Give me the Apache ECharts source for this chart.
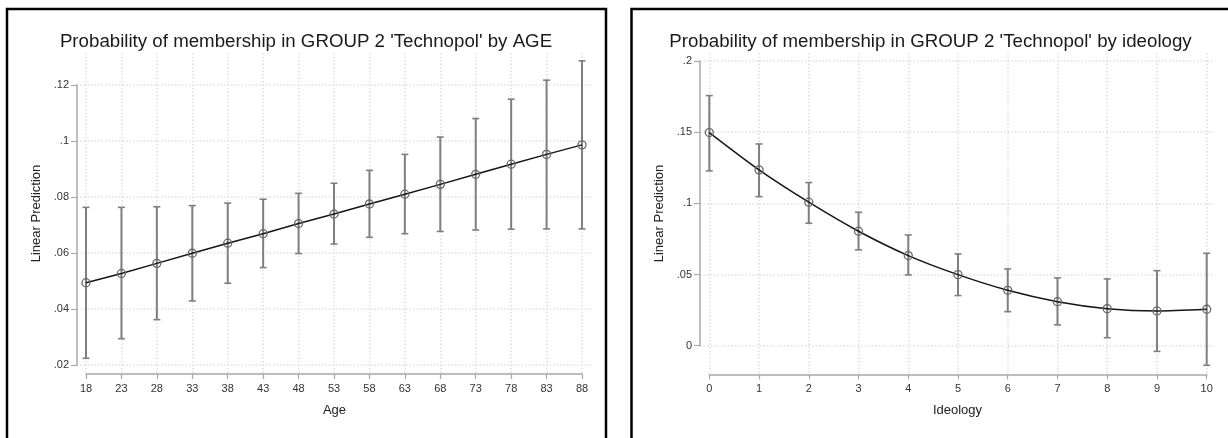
<!DOCTYPE html>
<html>
<head>
<meta charset="utf-8">
<script src="https://cdn.jsdelivr.net/npm/echarts@6/dist/echarts.min.js"></script>
<style>
html,body{margin:0;padding:0;background:#fff;}
#chart{width:1228px;height:438px;}
</style>
</head>
<body>
<div id="chart"></div>
<script>
// ---- Data: left panel (by AGE) ----
const ages = [18, 23, 28, 33, 38, 43, 48, 53, 58, 63, 68, 73, 78, 83, 88];
const ageFit = [0.0494, 0.0527, 0.0563, 0.0599, 0.0635, 0.0669, 0.0705, 0.0739, 0.0775, 0.0810, 0.0845, 0.0881, 0.0917, 0.0952, 0.0986];
const ageUpper = [0.0763, 0.0763, 0.0765, 0.0769, 0.0778, 0.0792, 0.0813, 0.0849, 0.0895, 0.0952, 0.1014, 0.1080, 0.1149, 0.1217, 0.1286];
const ageLower = [0.0224, 0.0294, 0.0362, 0.0429, 0.0492, 0.0548, 0.0598, 0.0632, 0.0656, 0.0669, 0.0677, 0.0682, 0.0685, 0.0686, 0.0686];
const ageYTicks = [0.02, 0.04, 0.06, 0.08, 0.1, 0.12];
const ageYLabels = ['.02', '.04', '.06', '.08', '.1', '.12'];

// ---- Data: right panel (by ideology) ----
const ideology = [0, 1, 2, 3, 4, 5, 6, 7, 8, 9, 10];
const ideoFit = [0.1497, 0.1235, 0.1008, 0.0804, 0.0633, 0.0499, 0.0389, 0.0309, 0.0260, 0.0244, 0.0256];
const ideoUpper = [0.1757, 0.1417, 0.1146, 0.0937, 0.0778, 0.0644, 0.0539, 0.0476, 0.0469, 0.0527, 0.0649];
const ideoLower = [0.1228, 0.1047, 0.0860, 0.0673, 0.0497, 0.0352, 0.0239, 0.0146, 0.0056, -0.0040, -0.0138];
const ideoYTicks = [0, 0.05, 0.1, 0.15, 0.2];
const ideoYLabels = ['0', '.05', '.1', '.15', '.2'];

const titles = [
  "Probability of membership in GROUP 2 'Technopol' by AGE",
  "Probability of membership in GROUP 2 'Technopol' by ideology"
];

const FONT = 'Liberation Sans, Arial, Helvetica, sans-serif';
const AXIS_COLOR = '#a8a8a8';
const LABEL_COLOR = '#333';
const GRID_LINE = {show: true, lineStyle: {color: '#dedede', width: 1.5, type: [1.5, 2]}};

function labelFor(ticks, labels) {
  return function (v) {
    const i = ticks.findIndex(t => Math.abs(t - v) < 1e-9);
    return i >= 0 ? labels[i] : '';
  };
}

function errorBars(xs, lo, hi, xi, yi) {
  return {
    type: 'custom',
    xAxisIndex: xi, yAxisIndex: yi,
    z: 2,
    data: xs.map((x, i) => [x, lo[i], hi[i]]),
    encode: {x: 0, y: [1, 2]},
    renderItem: function (params, api) {
      const x = api.value(0);
      const pLo = api.coord([x, api.value(1)]);
      const pHi = api.coord([x, api.value(2)]);
      const c = 3.5;
      const st = {stroke: '#7f7f7f', lineWidth: 2};
      const st2 = {stroke: '#7f7f7f', lineWidth: 1.6};
      return {type: 'group', children: [
        {type: 'line', shape: {x1: pLo[0], y1: pLo[1], x2: pHi[0], y2: pHi[1]}, style: st},
        {type: 'line', shape: {x1: pHi[0] - c, y1: pHi[1], x2: pHi[0] + c, y2: pHi[1]}, style: st2},
        {type: 'line', shape: {x1: pLo[0] - c, y1: pLo[1], x2: pLo[0] + c, y2: pLo[1]}, style: st2}
      ]};
    }
  };
}

function fitLine(xs, ys, xi, yi, smooth) {
  return {
    type: 'line',
    xAxisIndex: xi, yAxisIndex: yi,
    z: 3,
    data: xs.map((x, i) => [x, ys[i]]),
    smooth: smooth,
    symbol: 'circle',
    symbolSize: 8,
    itemStyle: {color: 'rgba(255,255,255,0)', borderColor: '#666', borderWidth: 1.3},
    lineStyle: {color: '#151515', width: 1.5},
    animation: false
  };
}

const chart = echarts.init(document.getElementById('chart'), null, {renderer: 'canvas'});

const TICK_FONT = 11;
const NAME_STYLE = {fontFamily: FONT, fontSize: 13, color: '#222'};

const option = {
  animation: false,
  backgroundColor: '#fff',
  textStyle: {fontFamily: FONT},
  title: [
    {text: titles[0], left: 301, top: 27, textAlign: 'center',
     textStyle: {fontFamily: FONT, fontSize: 18.7, fontWeight: 'normal', color: '#1a1a1a'}},
    {text: titles[1], left: 925.5, top: 27, textAlign: 'center',
     textStyle: {fontFamily: FONT, fontSize: 18.7, fontWeight: 'normal', color: '#1a1a1a'}}
  ],
  graphic: [
    {type: 'rect', shape: {x: 7, y: 9, width: 599, height: 450}, style: {fill: 'none', stroke: '#000', lineWidth: 2.5}, z: 10},
    {type: 'rect', shape: {x: 631.5, y: 9, width: 620, height: 450}, style: {fill: 'none', stroke: '#000', lineWidth: 2.5}, z: 10}
  ],
  grid: [
    {left: 77, top: 53, width: 515, height: 321},
    {left: 86, top: 85, width: 496, height: 280},
    {left: 700, top: 53, width: 515, height: 321},
    {left: 709.3, top: 61, width: 497.4, height: 284.7}
  ],
  xAxis: [
    {gridIndex: 0, type: 'value', min: 16.73, max: 89.41,
     axisLine: {show: false, onZero: false}, axisTick: {show: false, customValues: ages},
     axisLabel: {show: false, customValues: ages}, splitLine: GRID_LINE,
     name: 'Age', nameLocation: 'middle', nameGap: 30, nameTextStyle: NAME_STYLE},
    {gridIndex: 1, type: 'value', min: 18, max: 88, offset: 9,
     axisLine: {show: true, onZero: false, lineStyle: {color: AXIS_COLOR, width: 1.5}},
     axisTick: {show: true, length: 5, customValues: ages, lineStyle: {color: AXIS_COLOR, width: 1.2}},
     axisLabel: {customValues: ages, margin: 9, fontSize: TICK_FONT, color: LABEL_COLOR, fontFamily: FONT},
     splitLine: {show: false}},
    {gridIndex: 2, type: 'value', min: -0.187, max: 10.167,
     axisLine: {show: false, onZero: false}, axisTick: {show: false, customValues: ideology},
     axisLabel: {show: false, customValues: ideology}, splitLine: GRID_LINE,
     name: 'Ideology', nameLocation: 'middle', nameGap: 30, nameTextStyle: NAME_STYLE},
    {gridIndex: 3, type: 'value', min: 0, max: 10, offset: 28.6,
     axisLine: {show: true, onZero: false, lineStyle: {color: AXIS_COLOR, width: 1.5}},
     axisTick: {show: true, length: 5, customValues: ideology, lineStyle: {color: AXIS_COLOR, width: 1.2}},
     axisLabel: {customValues: ideology, margin: 9, fontSize: TICK_FONT, color: LABEL_COLOR, fontFamily: FONT},
     splitLine: {show: false}}
  ],
  yAxis: [
    {gridIndex: 0, type: 'value', min: 0.0168, max: 0.1314,
     axisLine: {show: false, onZero: false}, axisTick: {show: false, customValues: ageYTicks},
     axisLabel: {show: false, customValues: ageYTicks}, splitLine: GRID_LINE,
     name: 'Linear Prediction', nameLocation: 'middle', nameGap: 34, nameTextStyle: NAME_STYLE},
    {gridIndex: 1, type: 'value', min: 0.02, max: 0.12, offset: 9,
     axisLine: {show: true, onZero: false, lineStyle: {color: AXIS_COLOR, width: 1.5}},
     axisTick: {show: true, length: 6, customValues: ageYTicks, lineStyle: {color: AXIS_COLOR, width: 1.2}},
     axisLabel: {customValues: ageYTicks, margin: 8, fontSize: TICK_FONT, color: LABEL_COLOR, fontFamily: FONT,
                 formatter: labelFor(ageYTicks, ageYLabels)},
     splitLine: {show: false}},
    {gridIndex: 2, type: 'value', min: -0.0199, max: 0.2056,
     axisLine: {show: false, onZero: false}, axisTick: {show: false, customValues: ideoYTicks},
     axisLabel: {show: false, customValues: ideoYTicks}, splitLine: GRID_LINE,
     name: 'Linear Prediction', nameLocation: 'middle', nameGap: 34, nameTextStyle: NAME_STYLE},
    {gridIndex: 3, type: 'value', min: 0, max: 0.2, offset: 9.3,
     axisLine: {show: true, onZero: false, lineStyle: {color: AXIS_COLOR, width: 1.5}},
     axisTick: {show: true, length: 6, customValues: ideoYTicks, lineStyle: {color: AXIS_COLOR, width: 1.2}},
     axisLabel: {customValues: ideoYTicks, margin: 8, fontSize: TICK_FONT, color: LABEL_COLOR, fontFamily: FONT,
                 formatter: labelFor(ideoYTicks, ideoYLabels)},
     splitLine: {show: false}}
  ],
  series: [
    errorBars(ages, ageLower, ageUpper, 0, 0),
    fitLine(ages, ageFit, 0, 0, false),
    errorBars(ideology, ideoLower, ideoUpper, 2, 2),
    fitLine(ideology, ideoFit, 2, 2, 0.25)
  ]
};

chart.setOption(option);
</script>
</body>
</html>
